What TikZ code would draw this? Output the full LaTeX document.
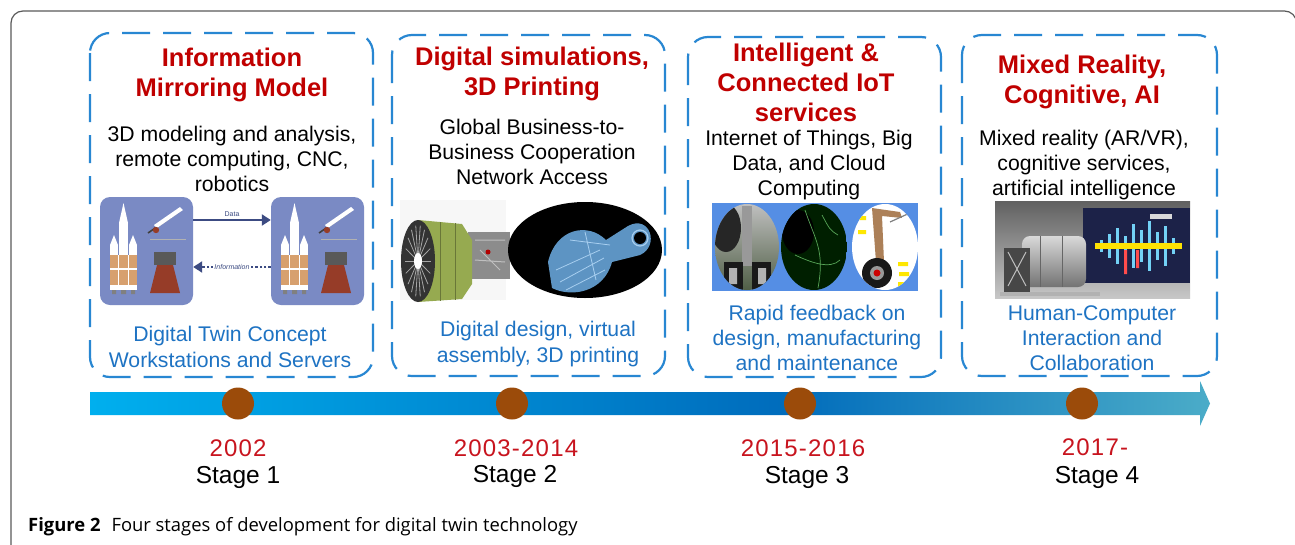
\documentclass[tikz,border=0pt]{standalone}
\usepackage{fontspec}
\setmainfont{Liberation Sans}
\newfontfamily\capfont{Open Sans}
\newfontfamily\yearfont[LetterSpace=5]{Liberation Sans}
\usetikzlibrary{arrows.meta}
\definecolor{framegray}{RGB}{90,90,90}
\definecolor{dashblue}{RGB}{40,135,210}
\definecolor{titlered}{RGB}{192,0,0}
\definecolor{yearred}{RGB}{200,20,30}
\definecolor{textblue}{RGB}{30,115,195}
\definecolor{dotbrown}{RGB}{155,75,10}
\definecolor{barA}{RGB}{0,175,238}
\definecolor{barB}{RGB}{0,108,188}
\definecolor{barC}{RGB}{75,172,200}
\definecolor{imgblue}{RGB}{122,138,196}
\definecolor{arrnavy}{RGB}{60,75,130}
\definecolor{rtan}{RGB}{215,160,110}
\definecolor{rbrown}{RGB}{150,60,40}
\definecolor{enggreen}{RGB}{150,170,80}
\definecolor{wire}{RGB}{110,175,230}
\definecolor{gearblue}{RGB}{85,142,228}
\definecolor{screen}{RGB}{28,34,72}
\pgfdeclarehorizontalshading{barshade}{100bp}{color(0bp)=(barA); color(25bp)=(barA); color(56bp)=(barB); color(75bp)=(barC); color(100bp)=(barC)}
\tikzset{
  stagebox/.style={draw=dashblue, line width=2.2pt, dash pattern=on 28pt off 13pt, rounded corners=20pt},
  ttl/.style={font=\fontsize{25.5}{30}\selectfont\bfseries, text=titlered, align=center, inner sep=0pt},
  bodytxt/.style={font=\fontsize{21.2}{25.2}\selectfont, align=center, inner sep=0pt},
  bluetxt/.style={font=\fontsize{21.2}{25.2}\selectfont, text=textblue, align=center, inner sep=0pt},
  yeartxt/.style={font=\yearfont\fontsize{24}{28}\selectfont, text=yearred, inner sep=0pt},
  stagetxt/.style={font=\fontsize{24.5}{28}\selectfont, inner sep=0pt},
  stagedot/.style={circle, fill=dotbrown, minimum size=32pt, inner sep=0pt},
  imgsq/.style={rounded corners=10pt, fill=imgblue, minimum width=93pt, minimum height=108pt, inner sep=0pt},
  tinylbl/.style={font=\fontsize{7}{8}\selectfont, text=arrnavy, inner sep=1pt},
}
\newcommand\rocketpanel{%
  \fill[rtan] (10,58) rectangle (37,88);
  \fill[white] (19,26) rectangle (28,58);
  \fill[white] (19,26) -- (23.5,6) -- (28,26) -- cycle;
  \fill[white] (10,48) rectangle (18,58);
  \fill[white] (10,48) -- (14,38) -- (18,48) -- cycle;
  \fill[white] (29,48) rectangle (37,58);
  \fill[white] (29,48) -- (33,38) -- (37,48) -- cycle;
  \draw[white, line width=1.3pt] (18.5,58) -- (18.5,92) (28.5,58) -- (28.5,92) (10,72) -- (37,72);
  \fill[white] (10,88) rectangle (37,93);
  \fill[gray] (12,93) rectangle (16,97) (21,93) rectangle (26,97) (31,93) rectangle (35,97);
  \draw[line width=1.6pt, black!75] (48,36) -- (80,14);
  \fill[white] (54,28) -- (80,10) -- (83,13) -- (57,31) -- cycle;
  \fill[rbrown] (56,33) circle (3.2pt);
  \draw[gray!60, line width=1pt] (50,42) -- (86,42);
  \fill[black!65] (54,55) rectangle (76,68);
  \fill[rbrown] (57,68) -- (73,68) -- (80,96) -- (50,96) -- cycle;
}
\begin{document}
\begin{tikzpicture}[x=1pt,y=-1pt]
\useasboundingbox (0,0) rectangle (1295,544);
\fill[white] (0,0) rectangle (1295,544);
% outer frame
\draw[framegray, line width=1.2pt, rounded corners=12pt] (11,560) -- (11,11) -- (1296.5,11) -- (1296.5,560);

% dashed stage boxes
\draw[stagebox] (90,33) rectangle (373,377);
\draw[stagebox] (392,35) rectangle (665,376);
\draw[stagebox] (688,37) rectangle (941,377);
\draw[stagebox] (962,35) rectangle (1217,376);

% titles
\node[ttl] (t1) at (232,75) {Information\\Mirroring Model};
\node[ttl] (t2) at (532,74) {Digital simulations,\\3D Printing};
\node[ttl] (t3) at (806,82) {Intelligent \&\\Connected IoT\\services};
\node[ttl] (t4) at (1082,82) {Mixed Reality,\\Cognitive, AI};

% body texts
\node[bodytxt] (b1) at (232,159) {3D modeling and analysis,\\remote computing, CNC,\\robotics};
\node[bodytxt] (b2) at (532,152) {Global Business-to-\\Business Cooperation\\Network Access};
\node[bodytxt] (b3) at (809,165) {Internet of Things, Big\\Data, and Cloud\\Computing};
\node[bodytxt] (b4) at (1084,165) {Mixed reality (AR/VR),\\cognitive services,\\artificial intelligence};

% blue texts
\node[bluetxt] (u1) at (230,347) {Digital Twin Concept\\Workstations and Servers};
\node[bluetxt] (u2) at (538,344) {Digital design, virtual\\assembly, 3D printing};
\node[bluetxt] (u3) at (817,338) {Rapid feedback on\\design, manufacturing\\and maintenance};
\node[bluetxt] (u4) at (1092,338) {Human-Computer\\Interaction and\\Collaboration};

% ---------- picture 1 : mirroring model ----------
\node[imgsq] (sq1) at (146.5,251) {};
\node[imgsq] (sq2) at (317.5,251) {};
\begin{scope}[shift={(100,197)}]\rocketpanel\end{scope}
\begin{scope}[shift={(271,197)}]\rocketpanel\end{scope}
\coordinate (ya) at (0,220);
\coordinate (yb) at (0,267);
\draw[arrnavy, line width=2.4pt, -{Triangle[length=9pt,width=11pt]}] (sq1.east |- ya) -- (sq2.west |- ya)
  node[tinylbl, midway, above=1pt] (dlbl) {Data};
\draw[arrnavy, line width=2.4pt, dotted, -{Triangle[length=9pt,width=11pt]}] (sq2.west |- yb) -- (sq1.east |- yb)
  node[tinylbl, midway, fill=white, font=\fontsize{7}{8}\selectfont\itshape] (ilbl) {Information};

% ---------- picture 2 : engine ----------
\fill[black!3] (400,200) rectangle (506,300);
\fill[black!45] (468,232) rectangle (510,279);
\draw[black!25, line width=1pt] (475,240) -- (505,240) (475,260) -- (505,262) (480,250) -- (500,270);
\fill[red!70!black] (488,252) circle (2.5pt);
\fill[enggreen] (418,220) -- (462,224) -- (472,240) -- (472,284) -- (462,299) -- (418,302) -- cycle;
\draw[enggreen!70!black, line width=0.8pt] (440,222) -- (440,301) (455,223) -- (455,300);
\fill[black!80] (418,261) ellipse (17pt and 41pt);
\foreach \a in {0,20,...,340}{\draw[black!35, line width=0.8pt] (418,261) -- ++({13*cos(\a)},{36*sin(\a)});}
\fill[white] (418,261) ellipse (4pt and 8pt);
\fill[black] (585,250) ellipse (77pt and 48pt);
\fill[wire, opacity=0.85] (548,262) .. controls (556,228) and (588,222) .. (606,240)
   -- (628,226) .. controls (650,214) and (660,246) .. (640,255)
   -- (612,262) .. controls (604,292) and (572,298) .. (552,288) -- cycle;
\fill[black] (640,238) circle (6pt);
\draw[wire!60!white, line width=0.8pt] (556,270) -- (600,250) (560,282) -- (604,258) (566,290) -- (605,270) (570,240) -- (610,245) (585,232) -- (596,280);
\draw[wire!60!white, line width=1.2pt] (640,238) circle (8pt);

% ---------- picture 3 : landing gear ----------
\fill[gearblue] (712,203) rectangle (918,291);
\begin{scope}
  \clip (747,247) ellipse (32pt and 43pt);
  \shade[top color=black!25, bottom color={rgb,255:red,80;green,95;blue,70}] (715,204) rectangle (779,290);
  \fill[black!85] (726,228) ellipse (15pt and 24pt);
  \fill[black!40] (742,206) rectangle (752,266);
  \fill[black!90] (724,262) rectangle (743,292);
  \fill[black!90] (752,262) rectangle (771,292);
  \fill[black!30] (729,268) rectangle (737,284) (758,268) rectangle (766,284);
\end{scope}
\begin{scope}
  \clip (814,247) ellipse (33pt and 43pt);
  \fill[black!80!green!60!black] (781,204) rectangle (847,290);
  \fill[black] (798,232) ellipse (16pt and 22pt);
  \draw[green!30!gray, line width=0.7pt] (805,210) .. controls (815,240) and (825,250) .. (818,288)
     (795,255) .. controls (810,262) and (830,270) .. (840,260) (822,215) .. controls (830,230) .. (838,235);
\end{scope}
\fill[white] (885,247) ellipse (33pt and 43pt);
\begin{scope}
  \clip (885,247) ellipse (33pt and 43pt);
  \fill[rtan!80!black] (872,208) -- (900,212) -- (902,218) -- (882,216) -- (884,262) -- (876,262) -- cycle;
  \draw[black!50, line width=1.2pt] (890,222) -- (912,212);
  \fill[black!90] (877,273) circle (15pt);
  \fill[black!40] (877,273) circle (7pt);
  \fill[red!80!black] (877,273) circle (3.5pt);
  \fill[yellow!90!orange] (858,216) rectangle (866,220) (858,230) rectangle (866,234) (898,262) rectangle (908,266) (899,272) rectangle (909,276) (898,282) rectangle (908,286);
\end{scope}

% ---------- picture 4 : mixed reality ----------
\shade[top color=black!62, bottom color=black!22] (995,201) rectangle (1190,298);
\fill[screen] (1083,208) rectangle (1190,283);
\fill[white!85!black] (1150,214) rectangle (1172,219);
\foreach \x/\h in {1100/6,1108/12,1116/18,1124/10,1132/22,1140/16,1148/25,1156/14,1164/20,1172/8}{
  \fill[cyan!55!white] (\x,{246-\h}) rectangle (\x+2.5,{246+\h});}
\fill[yellow!85!orange] (1095,243) rectangle (1182,249);
\fill[red!70] (1124,250) rectangle (1127,274) (1136,250) rectangle (1139,268);
\shade[top color=black!15, bottom color=black!55, rounded corners=8pt] (1022,236) rectangle (1086,287);
\draw[black!60, line width=0.8pt] (1040,236) -- (1040,287) (1062,236) -- (1062,287);
\fill[black!72] (1004,248) rectangle (1030,292);
\draw[black!25, line width=1pt] (1008,252) -- (1026,286) (1026,252) -- (1008,286);
\fill[black!30] (1000,292) rectangle (1100,296);

% ---------- timeline ----------
\shade[shading=barshade] (90,392) -- (1200,392) -- (1200,381) -- (1210,403.5) -- (1200,426) -- (1200,415) -- (90,415) -- cycle;
\node[stagedot] (c1) at (238,403.5) {};
\node[stagedot] (c2) at (512,403.5) {};
\node[stagedot] (c3) at (800,403.5) {};
\node[stagedot] (c4) at (1082,403.5) {};

\node[yeartxt] (y1) at (238,448.5) {2002};
\node[yeartxt] (y2) at (516,448.5) {2003-2014};
\node[yeartxt] (y3) at (803,448.5) {2015-2016};
\node[yeartxt] (y4) at (1095,447.5) {2017-};
\node[stagetxt] (s1) at (238,477) {Stage 1};
\node[stagetxt] (s2) at (515,476) {Stage 2};
\node[stagetxt] (s3) at (807,477) {Stage 3};
\node[stagetxt] (s4) at (1097,477) {Stage 4};

% caption
\node[anchor=west, inner sep=0pt, font=\capfont\fontsize{18.4}{22}\selectfont] (cap) at (28,527)
  {\textbf{Figure 2}\hspace{11pt}Four stages of development for digital twin technology};
\end{tikzpicture}
\end{document}
